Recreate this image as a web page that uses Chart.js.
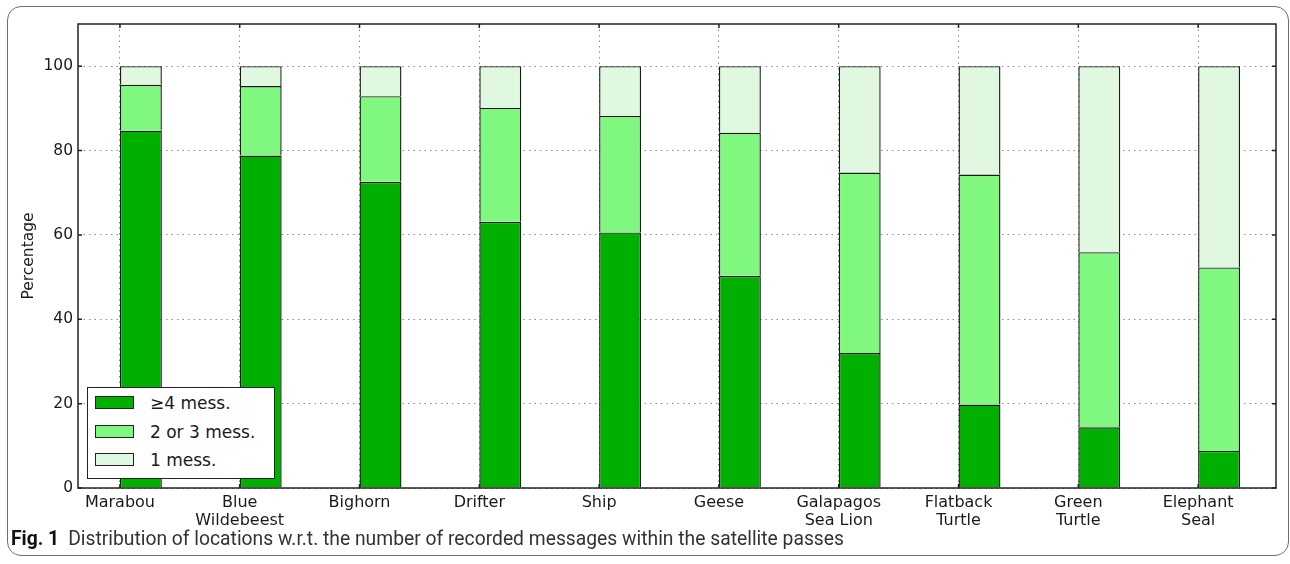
<!DOCTYPE html>
<html>
<head>
<meta charset="utf-8">
<script src="https://cdn.jsdelivr.net/npm/chart.js@4.4.1/dist/chart.umd.min.js"></script>
<style>
  body { margin: 0; width: 1290px; height: 564px; background: #fff; position: relative; overflow: hidden; }
  #frame { position: absolute; left: 7px; top: 6px; width: 1282px; height: 550px; box-sizing: border-box;
           border: 1.5px solid #707070; border-radius: 14px; }
  #wrap { position: absolute; left: 0; top: 0; width: 1290px; height: 540px; }
  #legend { position: absolute; left: 87px; top: 387px; width: 188px; height: 92px; box-sizing: border-box;
            border: 1.5px solid #222; background: #fff; font-family: 'DejaVu Sans', sans-serif; font-size: 17px; color: #1a1a1a; }
  #legend .row { position: absolute; left: 7px; height: 20px; display: flex; align-items: center; }
  #legend .sw { width: 39px; height: 13px; box-sizing: border-box; border: 1.2px solid #222; margin-right: 16px; }
  #caption { position: absolute; left: 11px; top: 527px; font-family: Roboto, sans-serif;
             font-size: 19.3px; color: #333; white-space: nowrap; }
  #caption b { color: #111; margin-right: 9px; }
</style>
</head>
<body>
<div id="frame"></div>
<div id="wrap"><canvas id="chart" width="1290" height="540"></canvas></div>
<div id="legend"></div>
<div id="caption"><b>Fig. 1</b>Distribution of locations w.r.t. the number of recorded messages within the satellite passes</div>
<script>
// ─── DATA ────────────────────────────────────────────────────────────────────
const categories = [['Marabou'], ['Blue', 'Wildebeest'], ['Bighorn'], ['Drifter'], ['Ship'], ['Geese'],
                    ['Galapagos', 'Sea Lion'], ['Flatback', 'Turtle'], ['Green', 'Turtle'], ['Elephant', 'Seal']];
const seriesLabels = ['≥4 mess.', '2 or 3 mess.', '1 mess.'];
const fourPlus   = [84.7, 78.8, 72.6, 63.1, 60.6, 50.3, 32.0, 19.8, 14.4, 8.8];
const twoOrThree = [10.9, 16.5, 20.3, 27.0, 27.6, 33.9, 42.8, 54.5, 41.5, 43.5];
const oneMess    = [4.4, 4.7, 7.1, 9.9, 11.8, 15.8, 25.2, 25.7, 44.1, 47.7];
const yTicks = [0, 20, 40, 60, 80, 100];
const seriesColors = ['#00b000', '#80f880', '#e0f8e0'];

// ─── SETUP ───────────────────────────────────────────────────────────────────
const BAR_W = 0.35;   // bars sit right of the tick, like matplotlib align='edge'
const $ = id => document.getElementById(id);
const toPts = vals => vals.map((v, i) => ({ x: i + BAR_W / 2, y: v }));

Chart.defaults.font.family = "'DejaVu Sans', sans-serif";
Chart.defaults.color = '#1a1a1a';

const frame = {
  id: 'frame',
  afterDraw(chart) {
    const { ctx, chartArea: a, scales } = chart;
    ctx.save();
    ctx.strokeStyle = '#222';
    ctx.lineWidth = 1.5;
    ctx.beginPath();
    // inward tick marks on all four sides
    scales.x.ticks.forEach(t => {
      const px = scales.x.getPixelForValue(t.value);
      ctx.moveTo(px, a.bottom); ctx.lineTo(px, a.bottom - 4);
      ctx.moveTo(px, a.top); ctx.lineTo(px, a.top + 4);
    });
    scales.y.ticks.forEach(t => {
      const py = scales.y.getPixelForValue(t.value);
      ctx.moveTo(a.left, py); ctx.lineTo(a.left + 4, py);
      ctx.moveTo(a.right, py); ctx.lineTo(a.right - 4, py);
    });
    ctx.stroke();
    ctx.strokeRect(a.left, a.top, a.right - a.left, a.bottom - a.top);
    ctx.restore();
  }
};

const datasets = [fourPlus, twoOrThree, oneMess].map((vals, k) => ({
  label: seriesLabels[k],
  data: toPts(vals),
  backgroundColor: seriesColors[k],
  borderColor: '#1a1a1a',
  borderWidth: 1.4,
  borderSkipped: 'start',
  categoryPercentage: BAR_W,
  barPercentage: 1,
}));

const chart = new Chart($('chart').getContext('2d'), {
  type: 'bar',
  data: { datasets },
  options: {
    responsive: false,
    animation: false,
    layout: { padding: { top: 24, right: 14, left: 0, bottom: 0 } },
    plugins: { legend: { display: false }, tooltip: { enabled: false } },
    scales: {
      x: {
        type: 'linear', stacked: true, offset: false, min: -BAR_W, max: categories.length - BAR_W,
        z: 1,
        afterBuildTicks: s => { s.ticks = categories.map((c, i) => ({ value: i })); },
        afterFit: s => { s.height = 52; },
        grid: { color: '#8a8a8a', lineWidth: 1, drawTicks: false, offset: false },
        border: { display: false, dash: [1.5, 4] },
        ticks: { autoSkip: false, maxRotation: 0, padding: 6, font: { size: 16, lineHeight: 1.12 },
                 callback: v => categories[Math.round(v)] },
      },
      y: {
        stacked: true, min: 0, max: 110,
        z: 1,
        afterBuildTicks: s => { s.ticks = yTicks.map(v => ({ value: v })); },
        afterFit: s => { s.width = 78; },
        grid: { color: '#8a8a8a', lineWidth: 1, drawTicks: false },
        border: { display: false, dash: [1.5, 4] },
        ticks: { padding: 5, font: { size: 15.5 } },
        title: { display: true, text: 'Percentage', font: { size: 15.5 }, padding: { top: 20, bottom: 0 } },
      },
    },
  },
  plugins: [frame],
});

// ─── LEGEND ──────────────────────────────────────────────────────────────────
const rowTops = [393, 422, 450];
chart.data.datasets.forEach((ds, k) => {
  const row = document.createElement('div');
  row.className = 'row';
  row.style.top = (rowTops[k] - 387 - 1.5) + 'px';
  row.innerHTML = `<span class="sw" style="background:${ds.backgroundColor}"></span><span>${ds.label}</span>`;
  $('legend').appendChild(row);
});
</script>
</body>
</html>
